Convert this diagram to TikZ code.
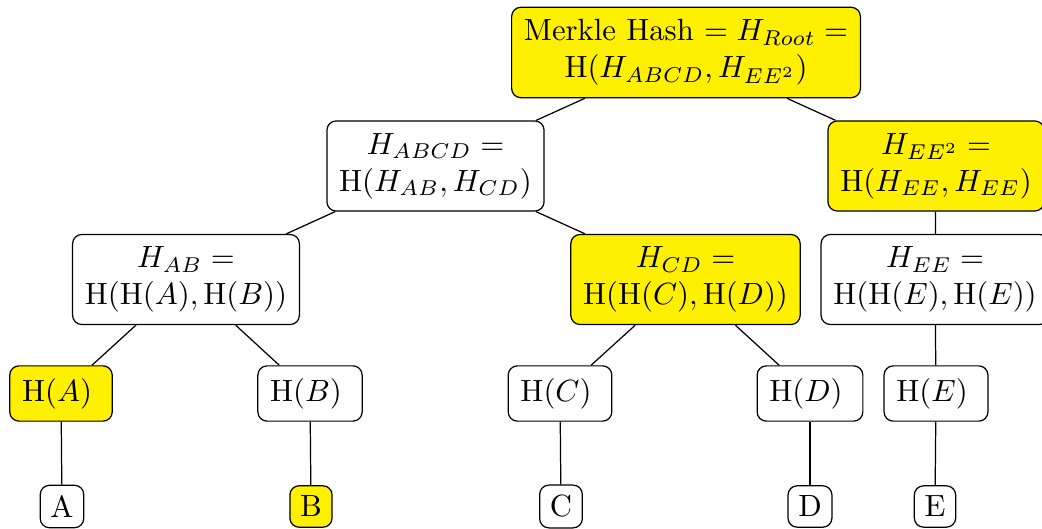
\documentclass[tikz,border=0pt]{standalone}
\usepackage{amsmath}
\usepackage{tikz}
\usepackage{xcolor}

\begin{document}
\begin{tikzpicture}[x=0.3257pt,y=-0.3257pt,
        hbox/.style={draw,rounded corners=3pt,inner sep=4pt},
        databox/.style={hbox,inner sep=.3333em},
        onpath/.style={fill=myyellow}]
        \definecolor{myyellow}{RGB}{255,240,0}

        \useasboundingbox (0,0) rectangle (1042,529);

        \node[hbox,onpath,align=center] (root) at (686,52.5) {Merkle Hash $= H_{Root} =$\\ H$(H_{ABCD}, H_{EE^2})$};

        \node[hbox,align=center] (habcd) at (435.5,166) {$H_{ABCD} =$\\ H$(H_{AB}, H_{CD})$};
        \node[hbox,onpath,align=center] (hee2) at (936,166) {$H_{EE^2} =$\\ H$(H_{EE}, H_{EE})$};

        \node[hbox,align=center] (hab) at (186,279.5) {$H_{AB} =$\\ $\mathrm{H}(\mathrm{H}(A), \mathrm{H}(B))$};
        \node[hbox,onpath,align=center] (hcd) at (685.5,279.5) {$H_{CD} =$\\ $\mathrm{H}(\mathrm{H}(C), \mathrm{H}(D))$};
        \node[hbox,align=center] (hee) at (935,279.5) {$H_{EE} =$\\ $\mathrm{H}(\mathrm{H}(E), \mathrm{H}(E))$};

        \node[hbox,onpath] (ha) at (61,393.5) {H$(A)$\kern2.6pt};
        \node[hbox] (hb) at (310,393.5) {H$(B)$\kern2.6pt};
        \node[hbox] (hc) at (560,393.5) {H$(C)$\kern2.6pt};
        \node[hbox] (hd) at (810,393.5) {H$(D)$\kern2.6pt};
        \node[hbox] (he) at (936,393.5) {H$(E)$\kern2.6pt};

        \node[databox] (a) at (62,506.5) {A};
        \node[databox,onpath] (b) at (311,506.5) {B};
        \node[databox] (c) at (561,506.5) {C};
        \node[databox] (d) at (810,506.5) {D};
        \node[databox] (e) at (935,506.5) {E};

        \draw (root) -- (habcd);
        \draw (root) -- (hee2);
        \draw (habcd) -- (hab);
        \draw (habcd) -- (hcd);
        \draw (hee2) -- (hee);
        \draw (hab) -- (ha);
        \draw (hab) -- (hb);
        \draw (hcd) -- (hc);
        \draw (hcd) -- (hd);
        \draw (hee) -- (he);
        \draw (ha) -- (a);
        \draw (hb) -- (b);
        \draw (hc) -- (c);
        \draw (hd) -- (d);
        \draw (he) -- (e);
    \end{tikzpicture}
\end{document}
